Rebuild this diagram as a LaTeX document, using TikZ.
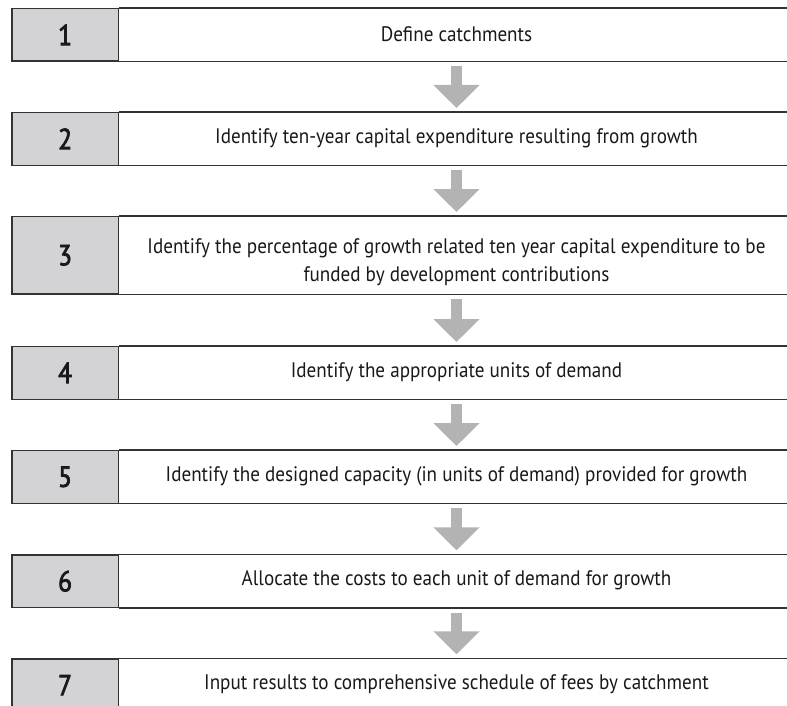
\documentclass[tikz,border=0pt]{standalone}
\usepackage{fontspec}
\setmainfont{PT Sans}[FakeStretch=0.91]
\newfontfamily\numfont{PT Sans}[FakeStretch=0.88,FakeBold=2.6]
\usetikzlibrary{arrows.meta}
\definecolor{cellgrey}{HTML}{D3D3D5}
\definecolor{arrgrey}{HTML}{B3B3B3}
\definecolor{linecol}{HTML}{333333}
\tikzset{
  numbox/.style={draw=linecol, line width=1.2pt, fill=cellgrey, minimum width=106.4pt,
    minimum height=52.5pt, inner sep=0pt, anchor=north west, text=black!90,
    font=\numfont\fontsize{29}{29}\selectfont},
  rule/.style={draw=linecol, line width=1.2pt},
  txt/.style={align=center, inner sep=0pt, text=black!90, font=\fontsize{21}{28}\selectfont},
  arr/.style={draw=arrgrey, line width=11pt, -{Triangle[width=45pt,length=23pt]}}
}
\begin{document}
\begin{tikzpicture}[x=1pt,y=-1pt]
\useasboundingbox (0,0) rectangle (787,706);
\fill[white] (0,0) rectangle (787,706);
% boxes
\node[numbox] (n1) at (11.3,8) {1};
\node[numbox] (n2) at (11.3,112) {2};
\node[numbox, minimum height=77.3pt] (n3) at (11.3,216) {3};
\node[numbox] (n4) at (11.3,346) {4};
\node[numbox] (n5) at (11.3,450) {5};
\node[numbox] (n6) at (11.3,554.3) {6};
\node[numbox] (n7) at (11.3,658.3) {7};
\foreach \i in {1,...,7}{
  \draw[rule] (n\i.north east) -- ++(690,0);
  \draw[rule] (n\i.south east) -- ++(690,0);
}
% texts
\node[txt] (t1) at (456.5,34.35) {Define catchments};
\node[txt] (t2) at (456.5,138.15) {Identify ten-year capital expenditure resulting from growth};
\node[txt] (t3) at (456.5,262) {Identify the percentage of growth related ten year capital expenditure to be\\funded by development contributions};
\node[txt] (t4) at (456.5,371.85) {Identify the appropriate units of demand};
\node[txt] (t5) at (456.5,476.35) {Identify the designed capacity (in units of demand) provided for growth};
\node[txt] (t6) at (456.5,580.5) {Allocate the costs to each unit of demand for growth};
\node[txt] (t7) at (456.5,684.6) {Input results to comprehensive schedule of fees by catchment};
% arrows
\foreach \i/\j in {1/2,2/3,3/4,4/5,5/6,6/7}{
  \draw[arr] ([yshift=-4.5pt]n\i.south -| t1.center) -- ([yshift=4pt]n\j.north -| t1.center);
}
\end{tikzpicture}
\end{document}
